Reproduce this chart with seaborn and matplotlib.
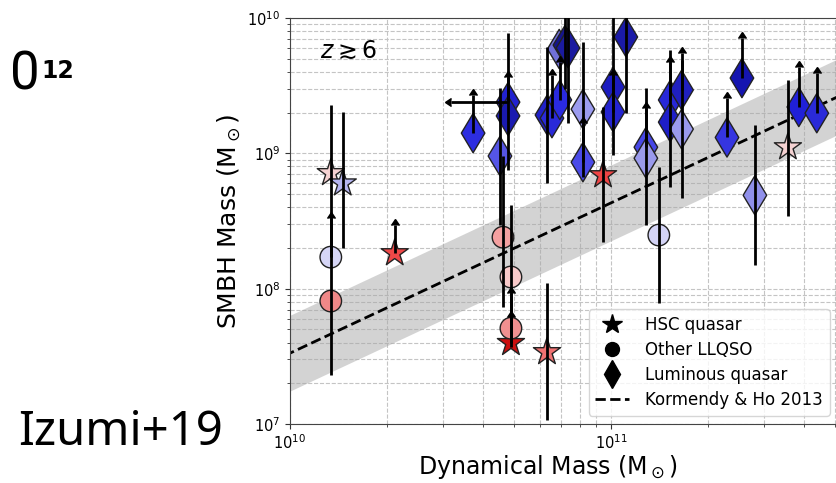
import numpy as np
import pandas as pd
import matplotlib
matplotlib.use("Agg")
import matplotlib.pyplot as plt
import seaborn as sns
from matplotlib.lines import Line2D

# HSC quasars (stars)
hsc_mdyn = [1.34e10, 1.46e10, 2.12e10, 4.88e10, 6.32e10, 9.45e10, 3.56e11]
hsc_mbh = [7.15e8, 6.0e8, 1.83e8, 3.97e7, 3.4e7, 6.9e8, 1.11e9]
hsc_lo = [2.3e7, 2.0e8, 1.83e8, 3.97e7, 1.07e7, 2.21e8, 3.44e8]
hsc_hi = [2.28e9, 2.02e9, 2.95e8, 6.2e7, 1.1e8, 2.2e9, 3.48e9]
hsc_lolim = [False, False, True, True, False, False, False]
hsc_color = ["#f5d2d2", "#b6b6f2", "#f04848", "#cc1010", "#f07272", "#f04444", "#f5d2d2"]

# other low-luminosity quasars (circles)
llq_mdyn = [1.34e10, 1.34e10, 4.61e10, 4.88e10, 4.88e10, 1.41e11]
llq_mbh = [1.71e8, 8.1e7, 2.4e8, 1.22e8, 5.1e7, 2.49e8]
llq_lo = [1.71e8, 8.1e7, 7.3e7, 3.7e7, 5.1e7, 7.8e7]
llq_hi = [3.33e8, 8.1e7, 9.5e8, 4.15e8, 9.3e7, 7.9e8]
llq_lolim = [True, False, False, False, True, False]
llq_color = ["#d6d6f6", "#f08888", "#f4a0a0", "#f8caca", "#f09090", "#d4d4f6"]

# luminous quasars (diamonds)
lum_mdyn = [3.72e10, 4.78e10, 4.78e10, 4.51e10, 6.32e10, 6.55e10, 6.93e10,
            6.9e10, 7.19e10, 7.35e10, 8.18e10, 8.18e10, 1.015e11, 1.015e11,
            1.113e11, 1.285e11, 1.285e11, 1.53e11, 1.53e11, 1.66e11, 1.66e11,
            2.30e11, 2.56e11, 2.81e11, 3.85e11, 4.38e11]
lum_mbh = [1.41e9, 2.39e9, 1.89e9, 9.55e8, 1.92e9, 1.82e9, 2.48e9,
           5.9e9, 6.31e9, 6.0e9, 2.12e9, 8.6e8, 3.09e9, 2.02e9,
           7.24e9, 1.11e9, 9.2e8, 2.48e9, 1.7e9, 2.94e9, 1.51e9,
           1.31e9, 3.6e9, 4.9e8, 2.2e9, 1.98e9]
lum_lo = [1.41e9, 2.39e9, 7.5e8, 2.95e8, 6.0e8, 1.82e9, 2.48e9,
          5.9e9, 3.0e9, 1.68e9, 6.7e8, 8.6e8, 9.7e8, 2.02e9,
          1.98e9, 1.11e9, 2.95e8, 2.48e9, 5.6e8, 2.94e9, 4.7e8,
          1.31e9, 3.6e9, 1.49e8, 2.2e9, 1.98e9]
lum_hi = [2.7e9, 3.66e9, 7.7e9, 3.04e9, 6.1e9, 3.8e9, 4.7e9,
          5.9e9, 1.5e10, 1.5e10, 6.65e9, 1.68e9, 1.2e10, 3.8e9,
          1.5e10, 2.16e9, 3.04e9, 4.7e9, 5.8e9, 5.5e9, 4.9e9,
          2.57e9, 7.1e9, 1.62e9, 4.35e9, 3.9e9]
lum_lolim = [True, True, False, False, False, True, True,
             False, False, False, False, True, False, True,
             False, True, False, True, False, True, False,
             True, True, False, True, True]
lum_color = ["#2d2de0", "#2222d0", "#1a1ab0", "#5555e6", "#2020c8", "#2a2ad8", "#2a2ae0",
             "#7070d8", "#15158c", "#1a1aa0", "#9c9cf0", "#4a4ae8", "#1c1cc0", "#2424d0",
             "#1a1aa8", "#4646e6", "#9a9aec", "#2828d8", "#1e1ec8", "#2020c0", "#9a9aee",
             "#3535e0", "#1515b0", "#9090ea", "#2020d8", "#2a2ad8"]

# one point with an upper limit on dynamical mass
xlim_mdyn = [4.78e10]
xlim_mbh = [2.39e9]
xlim_left = [3.17e10]

# local relation as drawn: norm at 1e11, slope, scatter (dex)
rel_norm = 4.3e8
rel_slope = 1.11
rel_scatter = 0.28

df = pd.concat([
    pd.DataFrame({"mdyn": hsc_mdyn, "mbh": hsc_mbh, "lo": hsc_lo, "hi": hsc_hi,
                  "lolim": hsc_lolim, "color": hsc_color, "kind": "HSC quasar"}),
    pd.DataFrame({"mdyn": llq_mdyn, "mbh": llq_mbh, "lo": llq_lo, "hi": llq_hi,
                  "lolim": llq_lolim, "color": llq_color, "kind": "Other LLQSO"}),
    pd.DataFrame({"mdyn": lum_mdyn, "mbh": lum_mbh, "lo": lum_lo, "hi": lum_hi,
                  "lolim": lum_lolim, "color": lum_color, "kind": "Luminous quasar"}),
], ignore_index=True)

sns.set_style("ticks")
plt.rcParams["font.family"] = ["DejaVu Sans"]
plt.rcParams["text.color"] = "black"
plt.rcParams["axes.labelcolor"] = "black"
plt.rcParams["xtick.color"] = "#333333"
plt.rcParams["ytick.color"] = "#333333"
plt.rcParams["xtick.labelcolor"] = "black"
plt.rcParams["ytick.labelcolor"] = "black"

fig = plt.figure(figsize=(8.36, 4.83), dpi=100)
ax = fig.add_axes([290 / 836, 59 / 483, 548 / 836, 406 / 483])
ax.set_xscale("log")
ax.set_yscale("log")

# Kormendy & Ho 2013 relation with scatter band
xx = np.logspace(9.9, 12, 60)
yy = rel_norm * (xx / 1e11) ** rel_slope
ax.fill_between(xx, yy / 10**rel_scatter, yy * 10**rel_scatter, color="#a8a8a8",
                alpha=0.5, lw=0, zorder=1)
ax.plot(xx, yy, ls="--", color="black", lw=2, zorder=2)

palette = {c: c for c in df["color"].unique()}
sns.scatterplot(data=df, x="mdyn", y="mbh", hue="color", palette=palette,
                style="kind", markers={"HSC quasar": "*", "Other LLQSO": "o",
                                       "Luminous quasar": "d"},
                size="kind", sizes={"HSC quasar": 420, "Other LLQSO": 240,
                                    "Luminous quasar": 400},
                edgecolor="#222222", linewidth=1, legend=False, zorder=3, ax=ax)

yerr = np.vstack([df["mbh"] - df["lo"], df["hi"] - df["mbh"]])
eb1 = ax.errorbar(df["mdyn"], df["mbh"], yerr=yerr, lolims=df["lolim"].values,
                  fmt="none", ecolor="black", elinewidth=2, capsize=0, zorder=4)
eb2 = ax.errorbar(xlim_mdyn, xlim_mbh,
                  xerr=[np.array(xlim_mdyn) - np.array(xlim_left), [0]],
                  xuplims=True, fmt="none", ecolor="black", elinewidth=2,
                  capsize=0, zorder=4)
for eb in (eb1, eb2):
    for cl in eb[1]:
        cl.set_color("black")
        cl.set_markerfacecolor("black")
        cl.set_markeredgecolor("black")
        cl.set_markersize(6)

ax.set_xlim(1e10, 5.1e11)
ax.set_ylim(1e7, 1e10)
ax.grid(True, which="both", ls="--", color="#c4c4c4", lw=0.8)
ax.set_axisbelow(True)
ax.tick_params(which="both", direction="out", labelsize=10.5)
for sp in ax.spines.values():
    sp.set_color("#444444")

ax.set_xlabel(r"Dynamical Mass (M$_\odot$)", fontsize=17)
ax.xaxis.set_label_coords(0.471, -0.072)
ax.set_ylabel(r"SMBH Mass (M$_\odot$)", fontsize=18, labelpad=3)
ax.text(0.055, 0.92, r"$z \gtrsim 6$", transform=ax.transAxes, fontsize=17,
        va="center")

handles = [
    Line2D([], [], marker="*", color="black", ls="none", markersize=15),
    Line2D([], [], marker="o", color="black", ls="none", markersize=10),
    Line2D([], [], marker="d", color="black", ls="none", markersize=14),
    Line2D([], [], color="black", ls="--", lw=2),
]
ax.legend(handles, ["HSC quasar", "Other LLQSO", "Luminous quasar",
                    "Kormendy & Ho 2013"], loc="lower right", fontsize=12,
          labelspacing=0.42, handletextpad=1.0)

# cropped slide text on the left
fig.text(18 / 836, 1 - 445 / 483, "Izumi+19", fontsize=34, family="Noto Sans",
         color="black", va="baseline")
fig.text(10 / 836, 1 - 90 / 483, "0", fontsize=38, family="Roboto",
         color="black", va="baseline")
fig.text(41 / 836, 1 - 78 / 483, "12", fontsize=17, fontweight="bold",
         color="black", va="baseline")

fig.savefig("out.png", dpi=100)
